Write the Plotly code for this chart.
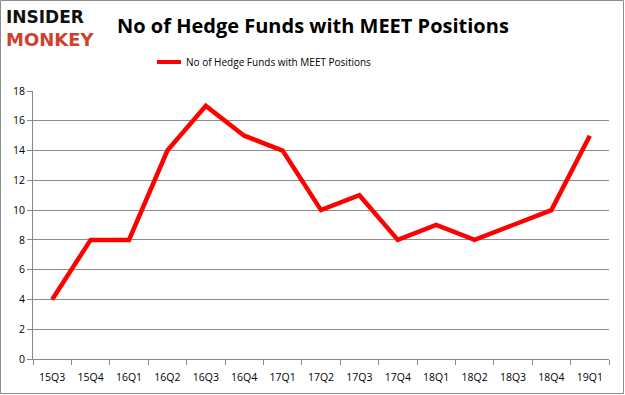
import plotly.graph_objects as go

quarters = ["15Q3", "15Q4", "16Q1", "16Q2", "16Q3", "16Q4", "17Q1", "17Q2",
            "17Q3", "17Q4", "18Q1", "18Q2", "18Q3", "18Q4", "19Q1"]
funds = [4, 8, 8, 14, 17, 15, 14, 10, 11, 8, 9, 8, 9, 10, 15]
y_ticks = [0, 2, 4, 6, 8, 10, 12, 14, 16, 18]
series_name = "No of Hedge Funds with MEET Positions"
title_text = "No of Hedge Funds with MEET Positions"

W, H = 625, 395
L, R, T, B = 33, 609, 91, 359

def px(x):
    return (x - L) / (R - L)

def py(y):
    return (B - y) / (B - T)

fig = go.Figure()
fig.add_trace(go.Scatter(
    x=quarters, y=funds, mode="lines", name=series_name,
    line=dict(color="#ff0000", width=4.5),
))

fig.update_layout(
    width=W, height=H,
    margin=dict(l=L, r=W - R, t=T, b=H - B),
    paper_bgcolor="white", plot_bgcolor="white",
    font=dict(family="Open Sans, DejaVu Sans, sans-serif", color="#000000", size=11),
    showlegend=False,
    xaxis=dict(
        type="category", range=[-0.5, 14.5],
        showline=True, linecolor="#888888", linewidth=1,
        ticks="outside", tickson="boundaries", ticklen=5, tickcolor="#888888",
        showgrid=False, tickfont=dict(size=10.5), fixedrange=True,
        ticklabelstandoff=8,
    ),
    yaxis=dict(
        range=[0, 18], tickvals=y_ticks,
        showline=True, linecolor="#888888", linewidth=1,
        ticks="outside", ticklen=5, tickcolor="#888888",
        showgrid=True, gridcolor="#8c8c8c", gridwidth=1,
        zeroline=False, tickfont=dict(size=10.5), fixedrange=True,
    ),
    shapes=[
        dict(type="rect", xref="paper", yref="paper",
             x0=px(0.5), x1=px(W - 1.5), y0=py(H - 1.5), y1=py(0.5),
             line=dict(color="#8c8c8c", width=1), fillcolor="rgba(0,0,0,0)", layer="below"),
        dict(type="line", xref="paper", yref="paper",
             x0=px(157), x1=px(181), y0=py(62), y1=py(62),
             line=dict(color="#ff0000", width=4)),
    ],
    annotations=[
        dict(text="<b>" + title_text + "</b>", xref="paper", yref="paper",
             x=px(313), y=py(25), xanchor="center", yanchor="middle", showarrow=False,
             font=dict(size=20, family="Open Sans, sans-serif", color="#000000")),
        dict(text=series_name, xref="paper", yref="paper",
             x=px(184), y=py(62), xanchor="left", yanchor="middle", showarrow=False,
             font=dict(size=10, family="Open Sans, sans-serif", color="#000000")),
        dict(text="<b>INSIDER</b>", xref="paper", yref="paper",
             x=px(4), y=py(17), xanchor="left", yanchor="middle", showarrow=False,
             font=dict(size=17, family="DejaVu Sans, sans-serif", color="#111111")),
        dict(text="<b>MONKEY</b>", xref="paper", yref="paper",
             x=px(4), y=py(39), xanchor="left", yanchor="middle", showarrow=False,
             font=dict(size=18, family="DejaVu Sans, sans-serif", color="#d0402b")),
    ],
)

fig.write_html("out.html", config={"displayModeBar": False},
               post_script="document.body.style.margin='0';")
